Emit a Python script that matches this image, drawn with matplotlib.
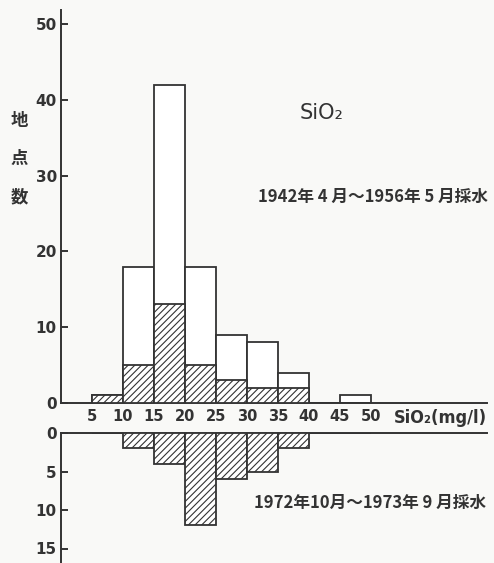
import numpy as np
import matplotlib.pyplot as plt

plt.rcParams['font.family'] = ['DejaVu Sans', 'Noto Sans CJK JP']
plt.rcParams['hatch.linewidth'] = 0.8
plt.rcParams['hatch.color'] = '#4a4a4a'

# SiO2 の階級 (mg/l) と地点数
bin_left = np.array([5, 10, 15, 20, 25, 30, 35, 40, 45])
old_total = [1, 18, 42, 18, 9, 8, 4, 0, 1]      # 1942-1956 全地点
old_hatched = [1, 5, 13, 5, 3, 2, 2, 0, 0]      # うち斜線部
new_counts = [0, 2, 4, 12, 6, 5, 2, 0, 0]       # 1972-1973
x_ticks = [5, 10, 15, 20, 25, 30, 35, 40, 45, 50]
top_yticks = [0, 10, 20, 30, 40, 50]
bottom_yticks = [0, 5, 10, 15]

ink = '#333333'
paper = '#f9f9f7'
jp = ['Noto Sans CJK JP', 'DejaVu Sans']

fig = plt.figure(figsize=(4.94, 5.63), dpi=100, facecolor=paper)
W, H = 494, 563
left, right = 61 / W, 487 / W
ax = fig.add_axes([left, (H - 403) / H, right - left, 393 / H])
ax2 = fig.add_axes([left, 0, right - left, (H - 433) / H])

xmax = (487 - 61) / 6.2
for a in (ax, ax2):
    a.set_facecolor('none')
    a.set_xlim(0, xmax)
    for s in a.spines.values():
        s.set_color(ink)
        s.set_linewidth(1.4)
    a.tick_params(axis='y', direction='in', length=5, width=1.4, color=ink,
                  pad=3, labelsize=11, labelcolor=ink)

# 上段: 1942年4月～1956年5月
ax.set_ylim(0, (403 - 10) / 7.58)
ax.spines['top'].set_visible(False)
ax.spines['right'].set_visible(False)
ax.bar(bin_left, old_total, width=5, align='edge', color='white',
       edgecolor=ink, linewidth=1.3, zorder=2)
ax.bar(bin_left, old_hatched, width=5, align='edge', color='white',
       edgecolor=ink, linewidth=1.3, hatch='/////', zorder=3)
ax.set_yticks(top_yticks)
ax.set_yticklabels([str(v) for v in top_yticks], fontweight='bold')
ax.set_xticks(x_ticks)
ax.set_xticklabels([str(v) for v in x_ticks], fontweight='bold',
                   fontsize=10.5, color=ink)
ax.tick_params(axis='x', length=0, pad=4)

# 下段: 1972年10月～1973年9月
ax2.set_ylim((H - 433) / 7.7, 0)
ax2.spines['bottom'].set_visible(False)
ax2.spines['right'].set_visible(False)
ax2.bar(bin_left, new_counts, width=5, align='edge', color='white',
        edgecolor=ink, linewidth=1.3, hatch='/////', zorder=3)
ax2.set_yticks(bottom_yticks)
ax2.set_yticklabels([str(v) for v in bottom_yticks], fontweight='bold')
ax2.set_xticks([])

# ラベル類
fig.text(440 / W, 1 - 418 / H, 'SiO₂(mg/l)', ha='center', va='center',
         fontsize=13, fontweight='bold', color=ink, fontstretch='condensed')
fig.text(322 / W, 1 - 113 / H, 'SiO₂', ha='center', va='center',
         fontsize=15, color=ink)
fig.text(373 / W, 1 - 197 / H, '1942年 4 月～1956年 5 月採水', ha='center',
         va='center', fontsize=12, fontweight='bold', color=ink, family=jp)
fig.text(370 / W, 1 - 503 / H, '1972年10月～1973年 9 月採水', ha='center',
         va='center', fontsize=12, fontweight='bold', color=ink, family=jp)
for ch, yy in zip('地点数', [121, 159, 197]):
    fig.text(19 / W, 1 - yy / H, ch, ha='center', va='center',
             fontsize=12.5, fontweight='bold', color=ink, family=jp)

fig.savefig('out.png', dpi=100, facecolor=paper)
